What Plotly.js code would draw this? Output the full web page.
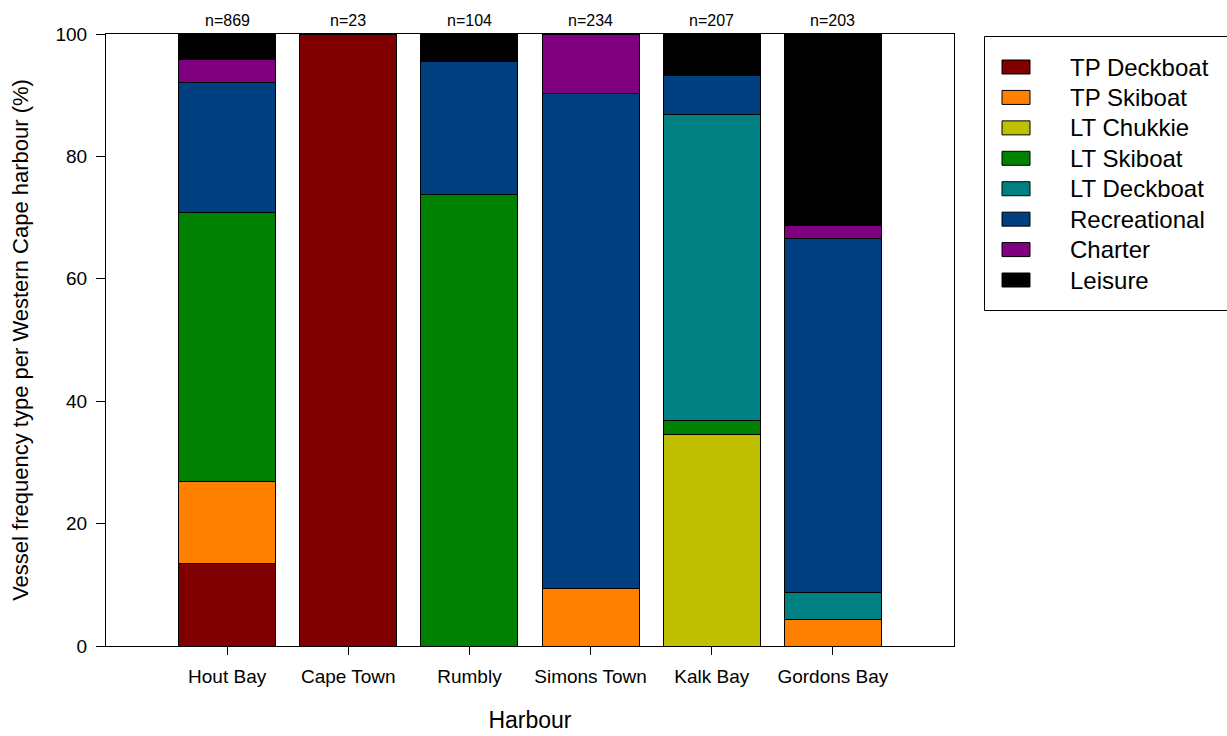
<!DOCTYPE html>
<html>
<head>
<meta charset="utf-8">
<script src="https://cdn.plot.ly/plotly-3.0.1.min.js"></script>
<style>html,body{margin:0;padding:0;background:#fff;}#chart{width:1227px;height:736px;}</style>
</head>
<body>
<div id="chart"></div>
<script>
const harbours = ["Hout Bay", "Cape Town", "Rumbly", "Simons Town", "Kalk Bay", "Gordons Bay"];
const sampleSizes = ["n=869", "n=23", "n=104", "n=234", "n=207", "n=203"];

const seriesNames = ["TP Deckboat", "TP Skiboat", "LT Chukkie", "LT Skiboat", "LT Deckboat", "Recreational", "Charter", "Leisure"];
const tpDeckboat   = [13.4, 100, 0, 0, 0, 0];
const tpSkiboat    = [13.4, 0, 0, 9.4, 0, 4.3];
const ltChukkie    = [0, 0, 0, 0, 34.6, 0];
const ltSkiboat    = [44.1, 0, 73.8, 0, 2.2, 0];
const ltDeckboat   = [0, 0, 0, 0, 50.0, 4.5];
const recreational = [21.2, 0, 21.7, 80.9, 6.5, 57.8];
const charter      = [3.7, 0, 0, 9.7, 0, 2.1];
const leisure      = [4.2, 0, 4.5, 0, 6.7, 31.3];

const seriesValues = [tpDeckboat, tpSkiboat, ltChukkie, ltSkiboat, ltDeckboat, recreational, charter, leisure];
const seriesColors = ["#800000", "#FF8000", "#C0C000", "#008000", "#008080", "#004080", "#800080", "#000000"];

const FONT = "Arial, 'Liberation Sans', sans-serif";

// plot area geometry (px) used to place the hand-drawn legend box
const M = { l: 106, r: 273, t: 34, b: 90 };
const W = 1227, H = 736;
const PW = W - M.l - M.r, PH = H - M.t - M.b;
const px2x = p => (p - M.l) / PW;
const py2y = p => (H - M.b - p) / PH;

const traces = seriesNames.map((name, i) => ({
  type: "bar",
  name: name,
  x: harbours,
  y: seriesValues[i],
  width: 0.8,
  marker: { color: seriesColors[i], line: { color: "#000000", width: 1 } },
  hoverinfo: "x+y+name",
  showlegend: false
}));

const annotations = harbours.map((h, i) => ({
  x: h, y: 100, xref: "x", yref: "y",
  text: sampleSizes[i], showarrow: false,
  yanchor: "bottom", yshift: 3,
  font: { family: FONT, size: 16, color: "#000" }
}));

// legend (drawn as layout shapes + text)
const shapes = [{
  type: "rect", xref: "paper", yref: "paper",
  x0: px2x(984.5), x1: px2x(1240), y0: py2y(310.5), y1: py2y(36.5),
  line: { color: "#000", width: 1 }, fillcolor: "#fff", layer: "below"
}];
const legStep = 30.43, legTop = 67;
seriesNames.forEach((name, i) => {
  const cy = legTop + legStep * i;
  shapes.push({
    type: "rect", xref: "paper", yref: "paper",
    x0: px2x(1002), x1: px2x(1030), y0: py2y(cy + 7), y1: py2y(cy - 7),
    line: { color: "#000", width: 1 }, fillcolor: seriesColors[i]
  });
  annotations.push({
    xref: "paper", yref: "paper", x: px2x(1068), y: py2y(cy),
    xanchor: "left", yanchor: "middle", showarrow: false,
    text: name, font: { family: FONT, size: 24, color: "#000" }
  });
});

const layout = {
  width: W, height: H,
  margin: { l: M.l, r: M.r, t: M.t, b: M.b, pad: 0 },
  paper_bgcolor: "#fff", plot_bgcolor: "#fff",
  barmode: "stack",
  bargap: 0.2,
  font: { family: FONT, color: "#000" },
  showlegend: false,
  xaxis: {
    type: "category",
    range: [-1, 6],
    showline: true, linecolor: "#000", linewidth: 1, mirror: true,
    ticks: "outside", ticklen: 8, tickcolor: "#000", tickwidth: 1,
    ticklabelstandoff: 5,
    tickfont: { family: FONT, size: 19, color: "#000" },
    showgrid: false, zeroline: false,
    title: { text: "Harbour", font: { family: FONT, size: 23, color: "#000" }, standoff: 26 },
    automargin: false
  },
  yaxis: {
    range: [0, 100],
    tickvals: [0, 20, 40, 60, 80, 100],
    showline: true, linecolor: "#000", linewidth: 1, mirror: true,
    ticks: "outside", ticklen: 9, tickcolor: "#000", tickwidth: 1,
    ticklabelstandoff: 5,
    tickfont: { family: FONT, size: 19, color: "#000" },
    showgrid: false, zeroline: false,
    title: { text: "Vessel frequency type per Western Cape harbour (%)", font: { family: FONT, size: 22, color: "#000" }, standoff: 20 },
    automargin: false
  },
  shapes: shapes,
  annotations: annotations
};

Plotly.newPlot("chart", traces, layout, { displayModeBar: false, staticPlot: true });
</script>
</body>
</html>
